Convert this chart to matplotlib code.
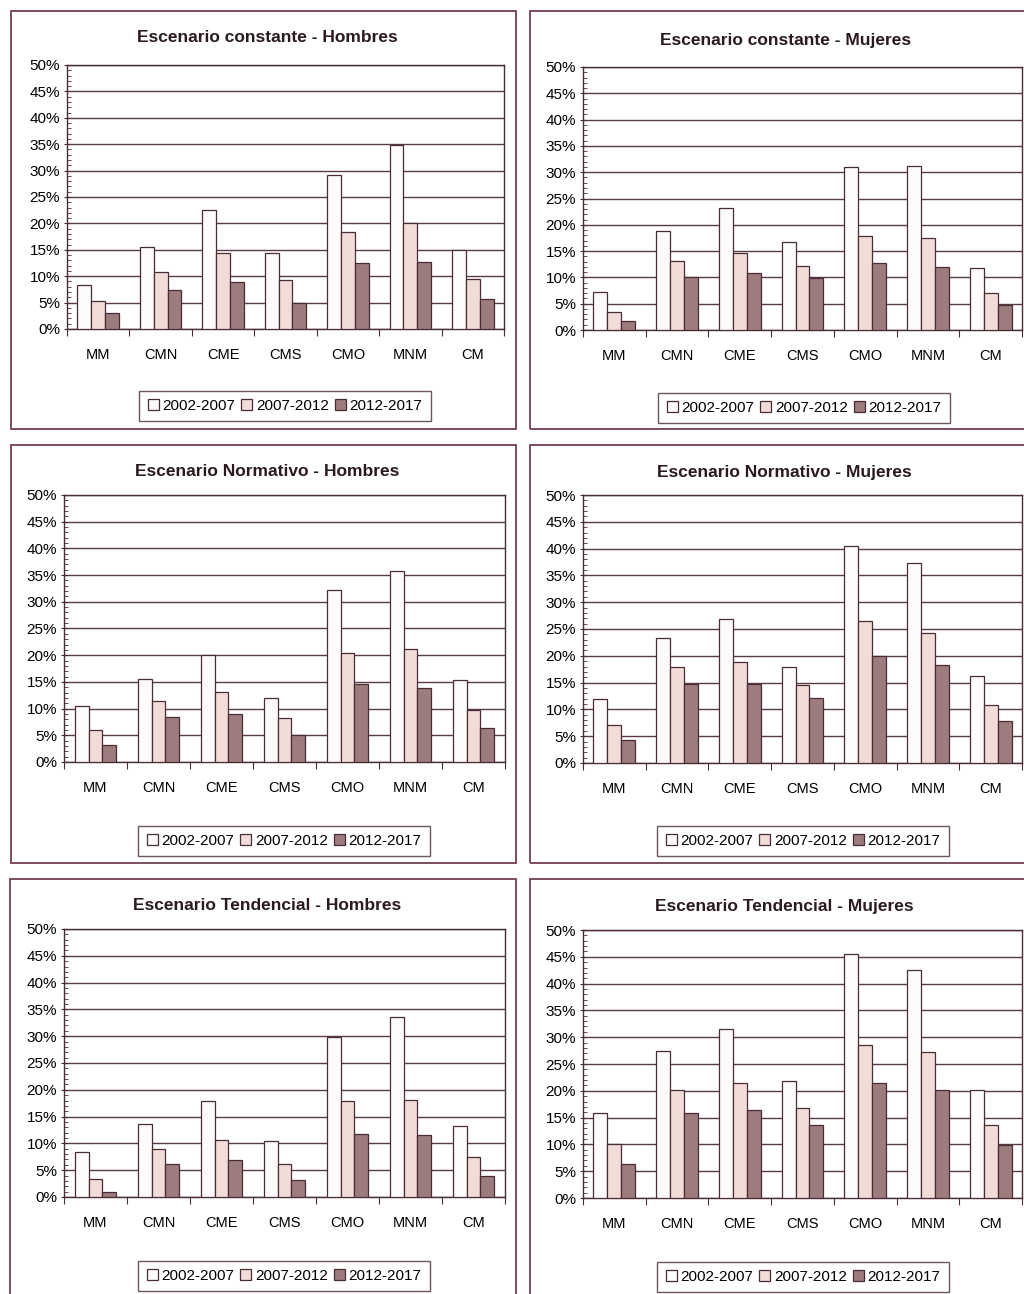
import matplotlib.pyplot as plt
from matplotlib.patches import Rectangle, Patch
from matplotlib.ticker import MultipleLocator, PercentFormatter
import numpy as np

# categorias y periodos
categorias = ["MM", "CMN", "CME", "CMS", "CMO", "MNM", "CM"]
periodos = ["2002-2007", "2007-2012", "2012-2017"]

# Escenario constante (%)
const_h_0207 = [8.3, 15.6, 22.6, 14.4, 29.2, 34.9, 14.9]
const_h_0712 = [5.3, 10.8, 14.4, 9.2, 18.3, 20.1, 9.4]
const_h_1217 = [3.0, 7.4, 8.9, 4.9, 12.5, 12.7, 5.7]

const_m_0207 = [7.3, 18.9, 23.1, 16.7, 31.0, 31.2, 11.7]
const_m_0712 = [3.5, 13.1, 14.7, 12.1, 17.8, 17.5, 7.1]
const_m_1217 = [1.8, 10.1, 10.9, 9.8, 12.7, 12.0, 4.7]

# Escenario normativo (%)
norm_h_0207 = [10.5, 15.6, 20.0, 11.9, 32.3, 35.8, 15.4]
norm_h_0712 = [6.0, 11.4, 13.1, 8.3, 20.5, 21.1, 9.7]
norm_h_1217 = [3.2, 8.4, 9.0, 5.0, 14.7, 13.9, 6.4]

norm_m_0207 = [12.0, 23.3, 26.8, 17.9, 40.4, 37.4, 16.3]
norm_m_0712 = [7.1, 17.9, 18.8, 14.6, 26.4, 24.3, 10.9]
norm_m_1217 = [4.2, 14.8, 14.8, 12.1, 19.9, 18.3, 7.9]

# Escenario tendencial (%)
tend_h_0207 = [8.4, 13.7, 17.9, 10.4, 29.9, 33.5, 13.3]
tend_h_0712 = [3.3, 9.0, 10.7, 6.2, 17.9, 18.1, 7.4]
tend_h_1217 = [0.9, 6.2, 6.9, 3.2, 11.8, 11.5, 4.0]

tend_m_0207 = [15.8, 27.5, 31.6, 21.8, 45.5, 42.5, 20.2]
tend_m_0712 = [10.1, 20.1, 21.5, 16.7, 28.6, 27.3, 13.6]
tend_m_1217 = [6.3, 15.8, 16.5, 13.7, 21.4, 20.2, 9.8]

colores = ["#fdfbf9", "#f1dcd8", "#9d7c7e"]
borde = "#4a2c36"
marco = "#73404f"
plt.rcParams["font.family"] = ["Liberation Sans", "DejaVu Sans"]

W, H = 1024, 1294
fig = plt.figure(figsize=(W / 100, H / 100), dpi=100)
fig.patch.set_facecolor("white")


def caja(x0, y0, x1, y1):
    fig.patches.append(Rectangle((x0 / W, 1 - y1 / H), (x1 - x0) / W, (y1 - y0) / H,
                                 transform=fig.transFigure, fill=False,
                                 edgecolor=marco, linewidth=1.3))


def grafico(pos, titulo, series, tit_xy, ley_xy):
    l, r, t, b = pos
    ax = fig.add_axes([l / W, 1 - b / H, (r - l) / W, (b - t) / H])
    x = np.arange(len(categorias))
    w = 0.222
    for i, vals in enumerate(series):
        ax.bar(x + (i - 1) * w, vals, w, color=colores[i], edgecolor=borde,
               linewidth=0.9, zorder=3)
    ax.set_xlim(-0.5, len(categorias) - 0.5)
    ax.set_ylim(0, 50)
    ax.yaxis.set_major_locator(MultipleLocator(5))
    ax.yaxis.set_minor_locator(MultipleLocator(1))
    ax.yaxis.set_major_formatter(PercentFormatter(decimals=0))
    ax.grid(axis="y", color="#5a3a46", linewidth=1.0, zorder=0)
    ax.set_xticks(np.arange(len(categorias) + 1) - 0.5)
    ax.set_xticklabels([])
    ax.set_xticks(x, minor=True)
    ax.set_xticklabels(categorias, minor=True, fontsize=10.5)
    ax.tick_params(axis="x", which="major", length=5, direction="out", color=borde)
    ax.tick_params(axis="x", which="minor", length=0, pad=14)
    ax.tick_params(axis="y", which="major", length=4, direction="inout",
                   labelsize=11, color=borde, pad=3)
    ax.tick_params(axis="y", which="minor", length=3, direction="in", color=borde)
    for s in ax.spines.values():
        s.set_color(borde)
        s.set_linewidth(1.0)
    fig.text(tit_xy[0] / W, 1 - tit_xy[1] / H, titulo, ha="center", va="center",
             fontsize=12.5, fontweight="bold", color="#2b1a20")
    handles = [Patch(facecolor=colores[i], edgecolor=borde, linewidth=0.9)
               for i in range(3)]
    fig.legend(handles, periodos, loc="center",
               bbox_to_anchor=(ley_xy[0] / W, 1 - ley_xy[1] / H),
               ncol=3, frameon=True, fancybox=False, fontsize=11,
               edgecolor=borde, handlelength=0.7, handleheight=0.7,
               handletextpad=0.25, columnspacing=0.4, borderpad=0.55)


# marcos de cada panel
caja(11, 11, 516, 429)
caja(530, 11, 1040, 429)
caja(11, 445, 516, 863)
caja(530, 445, 1040, 863)
caja(10, 879, 516, 1310)
caja(530, 879, 1040, 1310)

grafico((67, 504, 65, 329), "Escenario constante - Hombres",
        [const_h_0207, const_h_0712, const_h_1217], (267, 38), (285, 406))
grafico((583, 1022, 67, 330), "Escenario constante - Mujeres",
        [const_m_0207, const_m_0712, const_m_1217], (786, 40), (804, 408))
grafico((64, 505, 495, 762), "Escenario Normativo - Hombres",
        [norm_h_0207, norm_h_0712, norm_h_1217], (267, 471), (284, 841))
grafico((583, 1022, 495, 763), "Escenario Normativo - Mujeres",
        [norm_m_0207, norm_m_0712, norm_m_1217], (784, 472), (803, 841))
grafico((64, 505, 929, 1197), "Escenario Tendencial - Hombres",
        [tend_h_0207, tend_h_0712, tend_h_1217], (267, 905), (284, 1276))
grafico((583, 1022, 930, 1198), "Escenario Tendencial - Mujeres",
        [tend_m_0207, tend_m_0712, tend_m_1217], (784, 907), (803, 1277))

fig.savefig("out.png", dpi=100)
